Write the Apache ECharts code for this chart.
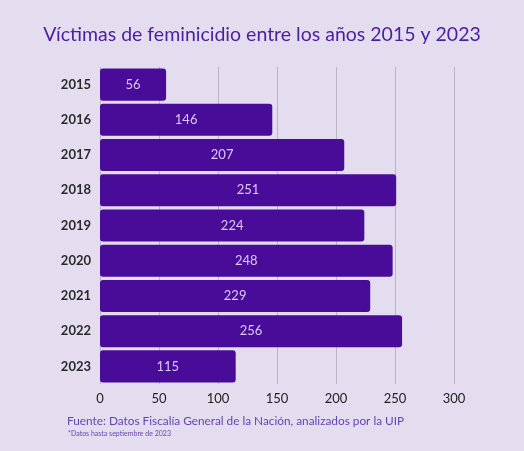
<!DOCTYPE html>
<html>
<head>
<meta charset="utf-8">
<script src="https://cdn.jsdelivr.net/npm/echarts@6/dist/echarts.min.js"></script>
<style>
  html, body { margin: 0; padding: 0; background: #e4ddef; }
  #chart { width: 524px; height: 451px; }
</style>
</head>
<body>
<div id="chart"></div>
<script>
// años y víctimas
const years = ["2015", "2016", "2017", "2018", "2019", "2020", "2021", "2022", "2023"];
const victims = [56, 146, 207, 251, 224, 248, 229, 256, 115];
const xTicks = [0, 50, 100, 150, 200, 250, 300];

const chart = echarts.init(document.getElementById("chart"));
const font = "Lato, 'Open Sans', sans-serif";

const option = {
  backgroundColor: "#e4ddef",
  title: [
    {
      text: "Víctimas de feminicidio entre los años 2015 y 2023",
      left: "center",
      top: 20,
      textStyle: { color: "#4a1f9c", fontSize: 19.5, fontWeight: "normal", fontFamily: font }
    },
    {
      text: "Fuente: Datos Fiscalía General de la Nación, analizados por la UIP",
      left: 62,
      top: 410,
      textStyle: { color: "#6246b0", fontSize: 11.8, fontWeight: "normal", fontFamily: font }
    },
    {
      text: "*Datos hasta septiembre de 2023",
      left: 63,
      top: 425,
      textStyle: { color: "#6246b0", fontSize: 7, fontWeight: "normal", fontFamily: font }
    }
  ],
  grid: { left: 100, right: 70, top: 67, bottom: 67, containLabel: false },
  xAxis: {
    type: "value",
    min: xTicks[0],
    max: xTicks[xTicks.length - 1],
    interval: 50,
    axisLine: { show: false },
    axisTick: { show: false },
    axisLabel: { color: "#222", fontSize: 13, fontFamily: font, margin: 8 },
    splitLine: { lineStyle: { color: "#b9b3c3", width: 1 } }
  },
  yAxis: {
    type: "category",
    data: years,
    inverse: true,
    axisLine: { show: false },
    axisTick: { show: false },
    axisLabel: { color: "#2a2a2a", fontSize: 13, fontWeight: "bold", fontFamily: font, margin: 9 }
  },
  series: [
    {
      type: "bar",
      data: victims,
      barCategoryGap: "9%",
      itemStyle: { color: "#490c98", borderRadius: 3 },
      label: {
        show: true,
        position: "inside",
        color: "#dccbf7",
        fontSize: 13,
        fontFamily: font
      }
    }
  ]
};

chart.setOption(option);
</script>
</body>
</html>
